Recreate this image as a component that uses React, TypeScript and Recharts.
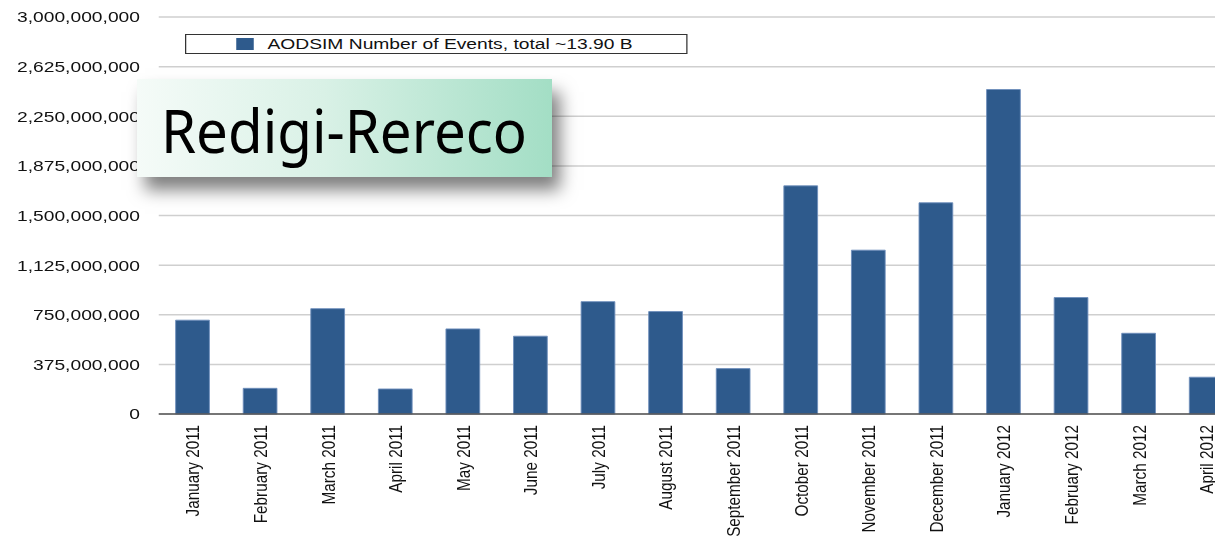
import React from 'react';
import { BarChart, Bar, XAxis, YAxis, CartesianGrid, Legend } from 'recharts';

const months = [
  'January 2011', 'February 2011', 'March 2011', 'April 2011', 'May 2011', 'June 2011',
  'July 2011', 'August 2011', 'September 2011', 'October 2011', 'November 2011', 'December 2011',
  'January 2012', 'February 2012', 'March 2012', 'April 2012',
];
const events = [
  709e6, 194e6, 796e6, 189e6, 643e6, 588e6,
  849e6, 774e6, 343e6, 1724e6, 1238e6, 1596e6,
  2452e6, 880e6, 610e6, 278e6,
];
const yTicks = [0, 375e6, 750e6, 1125e6, 1500e6, 1875e6, 2250e6, 2625e6, 3000e6];
const seriesName = 'AODSIM Number of Events, total ~13.90 B';
const overlayTitle = 'Redigi-Rereco';

const data = months.map((m, i) => ({ month: m, events: events[i] }));

const FONT = '"Liberation Sans", Arial, Helvetica, sans-serif';
const BAR = '#2E5A8C';

const fmt = (v: number) => v.toLocaleString('en-US');

const XTick = (props: any) => {
  const { x, y, payload } = props;
  return (
    <g transform={`translate(${x},${y})`}>
      <text
        transform="rotate(-90)"
        x={-3}
        y={0}
        dy="0.36em"
        textAnchor="end"
        fill="#111"
        fontSize={15.3}
        fontFamily={FONT}
      >
        {payload.value}
      </text>
    </g>
  );
};

const LegendBox = (props: any) => {
  const item = (props.payload && props.payload[0]) || { color: BAR, value: seriesName };
  return (
    <div
      style={{
        boxSizing: 'border-box',
        width: 402,
        height: 20,
        border: '1px solid #333',
        background: '#fff',
        display: 'flex',
        alignItems: 'center',
        fontFamily: FONT,
      }}
    >
      <span style={{ display: 'inline-block', width: 14, height: 12, background: item.color, marginLeft: 40 }} />
      <span style={{ marginLeft: 11, fontSize: 15.4, color: '#111', whiteSpace: 'nowrap', lineHeight: '18px' }}>
        {item.value}
      </span>
    </div>
  );
};

export default function App() {
  return (
    <div
      style={{
        position: 'absolute',
        left: 0,
        top: 0,
        width: 1215,
        height: 536,
        overflow: 'hidden',
        background: '#fff',
      }}
    >
      <div style={{ transform: 'scaleX(1.25)', transformOrigin: '0 0', width: 1000, height: 536 }}>
        <BarChart
          width={1000}
          height={536}
          data={data}
          margin={{ top: 17, right: 8, bottom: 0, left: 0 }}
          barCategoryGap="25%"
        >
          <CartesianGrid vertical={false} stroke="#cfcfcf" strokeWidth={1.5} />
          <XAxis
            dataKey="month"
            interval={0}
            height={122}
            tickLine={false}
            axisLine={{ stroke: '#555', strokeWidth: 1.5 }}
            tick={<XTick />}
          />
          <YAxis
            width={127}
            domain={[0, 3e9]}
            ticks={yTicks}
            interval={0}
            axisLine={false}
            tickLine={false}
            tickSize={6}
            tickMargin={9}
            tickFormatter={fmt}
            tick={{ fill: '#111', fontSize: 15.4, fontFamily: FONT }}
          />
          <Legend
            layout="horizontal"
            verticalAlign="middle"
            align="center"
            content={<LegendBox />}
            wrapperStyle={{ top: 34, left: 148, width: 'auto', height: 'auto' }}
          />
          <Bar
            dataKey="events"
            name={seriesName}
            fill={BAR}
            stroke="#6f8fbc"
            strokeWidth={0.8}
            isAnimationActive={false}
          />
        </BarChart>
      </div>
      <div
        style={{
          position: 'absolute',
          left: 137,
          top: 79,
          width: 415,
          height: 98,
          background: 'linear-gradient(to right, #f5fbf8 0%, #d9f1e6 45%, #a3dec5 100%)',
          boxShadow: '8px 13px 16px rgba(0,0,0,0.5)',
        }}
      >
        <svg width={415} height={98} style={{ display: 'block' }}>
          <text
            x={24}
            y={73.5}
            fontSize={60.8}
            fontFamily='"Noto Sans", "Open Sans", sans-serif'
            fill="#000"
            textLength={366}
            lengthAdjust="spacingAndGlyphs"
          >
            {overlayTitle}
          </text>
        </svg>
      </div>
    </div>
  );
}
